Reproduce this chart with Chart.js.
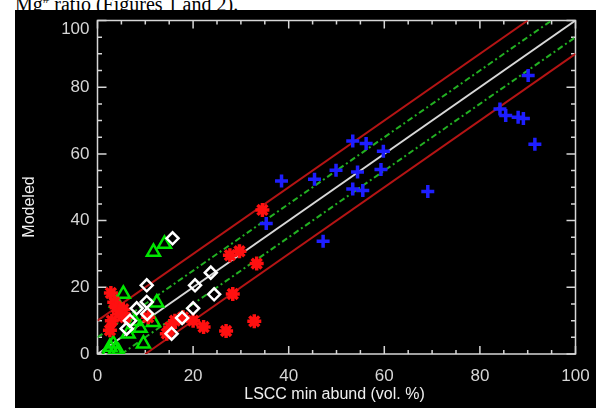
<!DOCTYPE html>
<html>
<head>
<meta charset="utf-8">
<script src="https://cdn.jsdelivr.net/npm/chart.js@4.4.0/dist/chart.umd.min.js"></script>
<style>
    html, body { margin: 0; padding: 0; background: #fff; width: 596px; height: 408px; overflow: hidden; }
    #caption {
        position: absolute; left: 15px; top: -11px;
        font-family: "Liberation Serif", "Times New Roman", serif;
        font-size: 20px; line-height: 20px; color: #000; white-space: nowrap;
    }
    #panel { position: absolute; left: 15px; top: 10px; width: 581px; height: 398px; background: #000; }
    #chart { display: block; }
</style>
</head>
<body>
<div id="caption">Mg<sup style="font-size:13px">#</sup> ratio (Figures 1 and 2).</div>
<div id="panel"><canvas id="chart" width="581" height="398"></canvas></div>
<script>
    // axis ticks
    const xTicks = [0, 20, 40, 60, 80, 100];
    const yTicks = [0, 20, 40, 60, 80, 100];
    const minorStep = 5;

    // blue crosses
    const blueX = [35.3, 38.5, 45.4, 47.2, 49.9, 53.4, 56.2, 59.8, 54.4, 59.3, 53.4, 55.5, 69.1, 84.2, 85.4, 88.0, 89.1, 90.1, 91.5];
    const blueY = [39.1, 51.9, 52.4, 33.8, 55.1, 63.9, 63.1, 60.8, 54.6, 55.3, 49.5, 49.0, 48.7, 73.5, 71.5, 71.0, 70.6, 83.5, 62.9];

    // red asterisks
    const redX = [2.8, 3.5, 4.0, 5.4, 3.0, 5.8, 2.6, 4.5, 10.6, 14.5, 15.2, 16.2, 17.9, 20.0, 22.2, 26.9, 27.7, 29.7, 28.3, 32.8, 33.3, 34.5];
    const redY = [18.3, 15.5, 13.9, 13.4, 10.0, 11.0, 7.1, 12.0, 11.0, 6.1, 8.0, 10.0, 11.0, 10.0, 8.1, 6.9, 29.6, 30.8, 18.0, 9.8, 27.1, 43.2];

    // green triangles
    const greenX = [11.7, 14.0, 5.4, 4.0, 12.4, 8.9, 9.6, 6.4, 11.7, 7.8, 2.6, 3.7, 3.3, 2.3, 4.4];
    const greenY = [30.6, 33.0, 18.0, 15.4, 15.4, 7.8, 3.1, 6.1, 9.5, 9.8, 2.1, 1.2, 3.1, 0.7, 0.7];

    // white diamonds
    const whiteX = [15.7, 10.3, 20.4, 10.3, 8.2, 6.8, 20.0, 17.7, 15.5, 6.1, 10.4, 23.7, 24.4];
    const whiteY = [34.7, 20.6, 20.6, 15.6, 13.7, 10.0, 13.7, 10.8, 6.1, 7.6, 12.0, 24.4, 17.9];

    // reference lines (1:1, +/-5, +/-10)
    const oneToOneX = [0, 100];
    const oneToOneY = [0, 100];
    const greenUpX = [0, 95];
    const greenUpY = [5, 100];
    const greenLoX = [5, 100];
    const greenLoY = [0, 95];
    const redUpX = [0, 90];
    const redUpY = [10, 100];
    const redLoX = [10, 100];
    const redLoY = [0, 90];

    function toPoints(xs, ys) {
        return xs.map((x, i) => ({ x: x, y: ys[i] }));
    }

    function refLine(xs, ys, color, dash, order) {
        return {
            data: toPoints(xs, ys),
            showLine: true,
            borderColor: color,
            borderWidth: 2,
            borderDash: dash,
            pointRadius: 0,
            fill: false,
            order: order
        };
    }

    function markers(xs, ys, style, radius, width, color, order) {
        return {
            data: toPoints(xs, ys),
            pointStyle: style,
            pointRadius: radius,
            pointBorderWidth: width,
            borderColor: color,
            backgroundColor: 'rgba(0,0,0,0)',
            order: order
        };
    }

    const axisColor = '#d6d6d6';
    const tickFont = '17px "Liberation Sans", Arial, sans-serif';

    // IDL style box axes with inward ticks
    const boxAxes = {
        id: 'boxAxes',
        beforeDatasetsDraw(chart) {
            const ctx = chart.ctx;
            const area = chart.chartArea;
            const xs = chart.scales.x;
            const ys = chart.scales.y;

            ctx.save();
            ctx.strokeStyle = axisColor;
            ctx.lineWidth = 1.5;
            ctx.strokeRect(area.left, area.top, area.right - area.left, area.bottom - area.top);

            for (let v = 0; v <= 100; v += minorStep) {
                const major = v % 20 === 0;
                const xl = major ? 8 : 4;
                const yl = major ? 9 : 4.5;
                const px = xs.getPixelForValue(v);
                const py = ys.getPixelForValue(v);
                ctx.beginPath();
                ctx.moveTo(px, area.bottom); ctx.lineTo(px, area.bottom - xl);
                ctx.moveTo(px, area.top); ctx.lineTo(px, area.top + xl);
                ctx.moveTo(area.left, py); ctx.lineTo(area.left + yl, py);
                ctx.moveTo(area.right, py); ctx.lineTo(area.right - yl, py);
                ctx.stroke();
            }

            ctx.fillStyle = axisColor;
            ctx.font = tickFont;
            ctx.textAlign = 'center';
            ctx.textBaseline = 'middle';
            xTicks.forEach(v => {
                ctx.fillText(String(v), xs.getPixelForValue(v), area.bottom + 22);
            });
            ctx.textAlign = 'right';
            yTicks.forEach(v => {
                const py = Math.max(ys.getPixelForValue(v), area.top + 9);
                ctx.fillText(String(v), area.left - 8, py);
            });

            ctx.fillStyle = '#f0f0f0';
            ctx.font = '16px "Liberation Sans", Arial, sans-serif';
            ctx.textAlign = 'center';
            ctx.fillText('LSCC min abund (vol. %)', (area.left + area.right) / 2 - 2, area.bottom + 41);

            ctx.translate(15, 197);
            ctx.rotate(-Math.PI / 2);
            ctx.fillText('Modeled', 0, 0);
            ctx.restore();
        }
    };

    new Chart(document.getElementById('chart'), {
        type: 'scatter',
        data: {
            datasets: [
                markers(blueX, blueY, 'cross', 6.5, 3.5, '#1e1eff', 0),
                markers(whiteX, whiteY, 'rectRot', 6, 2.5, '#ffffff', 1),
                markers(redX, redY, 'star', 7, 3.5, '#ff1010', 2),
                markers(greenX, greenY, 'triangle', 7.5, 2.5, '#00e600', 3),
                refLine(oneToOneX, oneToOneY, '#d8d8d8', [], 10),
                refLine(greenUpX, greenUpY, '#22b022', [6, 3, 2, 3], 11),
                refLine(greenLoX, greenLoY, '#22b022', [6, 3, 2, 3], 12),
                refLine(redUpX, redUpY, '#b41414', [], 13),
                refLine(redLoX, redLoY, '#b41414', [], 14)
            ]
        },
        options: {
            responsive: false,
            animation: false,
            devicePixelRatio: 1,
            layout: {
                padding: { left: 82.5, right: 20.5, top: 4.5, bottom: 54 }
            },
            plugins: {
                legend: { display: false },
                tooltip: { enabled: false }
            },
            scales: {
                x: { type: 'linear', min: 0, max: 100, display: false },
                y: { type: 'linear', min: 0, max: 100, display: false }
            }
        },
        plugins: [boxAxes]
    });
</script>
</body>
</html>
